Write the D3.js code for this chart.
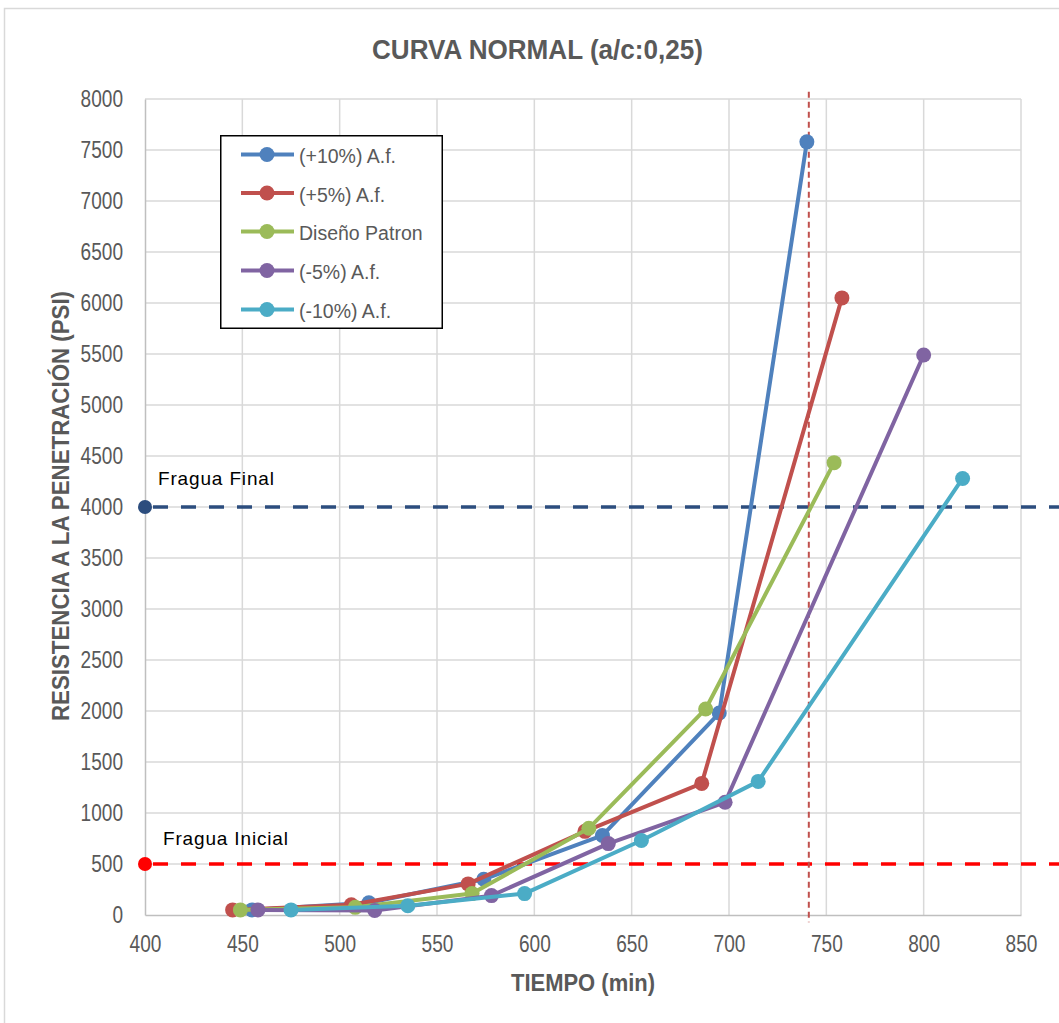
<!DOCTYPE html>
<html>
<head>
<meta charset="utf-8">
<script src="https://cdn.jsdelivr.net/npm/d3@7"></script>
<style>
  html, body { margin: 0; padding: 0; background: #ffffff; }
  svg { display: block; }
</style>
</head>
<body>
<svg id="chart" width="1059" height="1023"></svg>
<script>
// ---------- DATA ----------
const seriesNames = ["(+10%) A.f.", "(+5%) A.f.", "Diseño Patron", "(-5%) A.f.", "(-10%) A.f."];
const seriesColors = ["#4F81BD", "#C0504D", "#9BBB59", "#8064A2", "#4BACC6"];
const timeP10 = [455, 515, 574, 635, 695, 740];
const psiP10  = [50, 120, 350, 780, 1980, 7580];
const timeP5  = [445, 506, 566, 626, 686, 758];
const psiP5   = [50, 100, 305, 820, 1290, 6050];
const timePat = [449, 508, 568, 628, 688, 754];
const psiPat  = [50, 75, 210, 850, 2020, 4435];
const timeM5  = [458, 518, 578, 638, 698, 800];
const psiM5   = [50, 45, 190, 700, 1105, 5490];
const timeM10 = [475, 535, 595, 655, 715, 820];
const psiM10  = [50, 90, 210, 730, 1310, 4280];
const xTicks = [400, 450, 500, 550, 600, 650, 700, 750, 800, 850];
const yTicks = [0, 500, 1000, 1500, 2000, 2500, 3000, 3500, 4000, 4500, 5000, 5500, 6000, 6500, 7000, 7500, 8000];
const fraguaLabels = ["Fragua Final", "Fragua Inicial"];
const fraguaValues = [4000, 500];
const fraguaColors = ["#2C4D7E", "#FF0000"];
const fraguaStart = 400, fraguaEnd = 872;
const verticalTime = 741;
const verticalRange = [8070, -70];
const titleText = "CURVA NORMAL (a/c:0,25)";
const xTitle = "TIEMPO (min)";
const yTitle = "RESISTENCIA A LA PENETRACIÓN (PSI)";

const seriesX = [timeP10, timeP5, timePat, timeM5, timeM10];
const seriesY = [psiP10, psiP5, psiPat, psiM5, psiM10];
const series = seriesNames.map((n, i) => ({
  name: n, color: seriesColors[i],
  pts: seriesX[i].map((t, j) => ({ t, v: seriesY[i][j] }))
}));

// ---------- LAYOUT ----------
const svg = d3.select("#chart");
const L = 145, R = 1021, T = 99, B = 915;
const x = d3.scaleLinear().domain([400, 850]).range([L, R]);
const y = d3.scaleLinear().domain([0, 8000]).range([B, T]);
const narrow = "'Liberation Sans Narrow', 'Arial Narrow', 'Liberation Sans', Arial, sans-serif";
const regular = "'Liberation Sans', Arial, sans-serif";

// outer border
svg.append("rect").attr("x", 4.5).attr("y", 8.5).attr("width", 1070).attr("height", 1030)
  .attr("fill", "#fff").attr("stroke", "#D9D9D9").attr("stroke-width", 1.5);

// grid
const grid = svg.append("g");
grid.selectAll("line.h").data(yTicks.filter(d => d > 0)).join("line")
  .attr("x1", L).attr("x2", R).attr("y1", d => y(d)).attr("y2", d => y(d))
  .attr("stroke", "#D9D9D9").attr("stroke-width", 1.5);
grid.selectAll("line.v").data(xTicks.filter(d => d > 400)).join("line")
  .attr("y1", T).attr("y2", B).attr("x1", d => x(d)).attr("x2", d => x(d))
  .attr("stroke", "#D9D9D9").attr("stroke-width", 1.5);

// axes
const xAxis = svg.append("g").attr("transform", `translate(0,${B})`)
  .call(d3.axisBottom(x).tickValues(xTicks).tickSize(0).tickPadding(21).tickFormat(d3.format("d")));
const yAxis = svg.append("g").attr("transform", `translate(${L},0)`)
  .call(d3.axisLeft(y).tickValues(yTicks).tickSize(0).tickPadding(22).tickFormat(d3.format("d")));
[xAxis, yAxis].forEach(a => {
  a.select(".domain").attr("stroke", "#BFBFBF").attr("stroke-width", 1.5);
  a.selectAll("text").attr("font-family", regular).attr("font-size", 23).attr("fill", "#595959")
    .attr("textLength", d => String(d).length * 10.6).attr("lengthAdjust", "spacingAndGlyphs");
});

// Fragua horizontal lines
fraguaValues.forEach((v, i) => {
  svg.append("line").attr("x1", x(fraguaStart)).attr("x2", x(fraguaEnd))
    .attr("y1", y(v)).attr("y2", y(v))
    .attr("stroke", fraguaColors[i]).attr("stroke-width", 3.5)
    .attr("stroke-dasharray", "15,13").attr("stroke-dashoffset", -8);
  svg.append("circle").attr("cx", x(fraguaStart)).attr("cy", y(v)).attr("r", 7)
    .attr("fill", fraguaColors[i]);
});
svg.append("text").attr("x", 158).attr("y", y(fraguaValues[0]) - 22)
  .attr("font-family", regular).attr("font-size", 19).attr("fill", "#000")
  .attr("textLength", 116).attr("lengthAdjust", "spacing").text(fraguaLabels[0]);
svg.append("text").attr("x", 163).attr("y", y(fraguaValues[1]) - 19)
  .attr("font-family", regular).attr("font-size", 19).attr("fill", "#000")
  .attr("textLength", 125).attr("lengthAdjust", "spacing").text(fraguaLabels[1]);

// vertical dashed line
svg.append("line").attr("x1", x(verticalTime)).attr("x2", x(verticalTime))
  .attr("y1", y(verticalRange[0])).attr("y2", y(verticalRange[1]))
  .attr("stroke", "#C0504D").attr("stroke-width", 2).attr("stroke-dasharray", "6,4");

// series
const line = d3.line().x(d => x(d.t)).y(d => y(d.v));
series.forEach(s => {
  const g = svg.append("g");
  g.append("path").datum(s.pts).attr("d", line).attr("fill", "none")
    .attr("stroke", s.color).attr("stroke-width", 4).attr("stroke-linejoin", "round");
  g.selectAll("circle").data(s.pts).join("circle")
    .attr("cx", d => x(d.t)).attr("cy", d => y(d.v)).attr("r", 7.5).attr("fill", s.color);
});

// legend
const lg = svg.append("g");
lg.append("rect").attr("x", 220.75).attr("y", 135.75).attr("width", 221.5).attr("height", 192.5)
  .attr("fill", "#fff").attr("stroke", "#000").attr("stroke-width", 1.5);
const legY = [154.5, 193, 231.5, 270.5, 309.5];
series.forEach((s, i) => {
  lg.append("line").attr("x1", 241).attr("x2", 294).attr("y1", legY[i]).attr("y2", legY[i])
    .attr("stroke", s.color).attr("stroke-width", 4);
  lg.append("circle").attr("cx", 267).attr("cy", legY[i]).attr("r", 7.5).attr("fill", s.color);
  lg.append("text").attr("x", 299).attr("y", legY[i] + 8.5)
    .attr("font-family", regular).attr("font-size", 19.5).attr("fill", "#595959").text(s.name);
});

// titles
svg.append("text").attr("x", 537.5).attr("y", 58.5).attr("text-anchor", "middle")
  .attr("font-family", narrow).attr("font-weight", "bold").attr("font-size", 27)
  .attr("fill", "#595959").attr("textLength", 331).attr("lengthAdjust", "spacingAndGlyphs")
  .text(titleText);
svg.append("text").attr("x", 583).attr("y", 991).attr("text-anchor", "middle")
  .attr("font-family", narrow).attr("font-weight", "bold").attr("font-size", 24)
  .attr("fill", "#595959").attr("textLength", 144).attr("lengthAdjust", "spacingAndGlyphs")
  .text(xTitle);
svg.append("text").attr("transform", "translate(69,506) rotate(-90)").attr("text-anchor", "middle")
  .attr("font-family", narrow).attr("font-weight", "bold").attr("font-size", 24)
  .attr("fill", "#595959").attr("textLength", 430).attr("lengthAdjust", "spacingAndGlyphs")
  .text(yTitle);
</script>
</body>
</html>
